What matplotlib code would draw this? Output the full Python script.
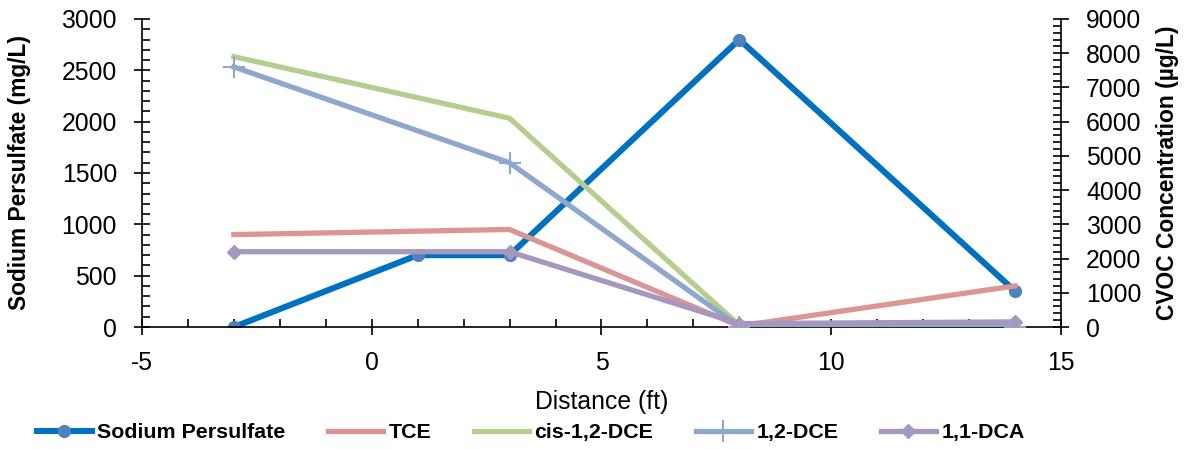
import matplotlib
matplotlib.use("Agg")
import matplotlib.pyplot as plt
from matplotlib.ticker import MultipleLocator

plt.rcParams['font.family'] = ['Liberation Sans', 'DejaVu Sans']
plt.rcParams['axes.unicode_minus'] = False

# --- data ---
sp_dist = [-3, 1, 3, 8, 14]
sp_conc = [0, 700, 700, 2800, 350]          # mg/L, left axis

cvoc_dist = [-3, 3, 8, 14]
tce = [2700, 2850, 30, 1200]                 # ug/L, right axis
cis_dce = [7900, 6100, 50, 20]
dce_12 = [7600, 4800, 10, 10]
dca_11 = [2200, 2200, 100, 150]

fig = plt.figure(figsize=(11.87, 4.49), dpi=100)
ax = fig.add_axes([0.1196, 0.2717, 0.8938 - 0.1196, 0.9577 - 0.2717])
ax2 = ax.twinx()

# primary series
l1, = ax.plot(sp_dist, sp_conc, color='#0070C0', lw=4.4, marker='o', ms=8.5,
              mfc='#4F81BD', mec='#4F81BD', label='Sodium Persulfate')

# secondary series (drawn on top, like Excel's secondary axis)
l2, = ax2.plot(cvoc_dist, tce, color='#D99694', lw=3.8, label='TCE')
l3, = ax2.plot(cvoc_dist, cis_dce, color='#B5CD8E', lw=3.8, label='cis-1,2-DCE')
l4, = ax2.plot(cvoc_dist, dce_12, color='#8EA7CD', lw=3.8, marker='+', ms=16,
               mew=1.5, label='1,2-DCE')
l5, = ax2.plot(cvoc_dist, dca_11, color='#A597BE', lw=3.8, marker='D', ms=7.5,
               label='1,1-DCA')

ax.set_xlim(-5, 15)
ax.set_ylim(0, 3000)
ax2.set_ylim(0, 9000)

ax.xaxis.set_major_locator(MultipleLocator(5))
ax.xaxis.set_minor_locator(MultipleLocator(1))
ax.yaxis.set_major_locator(MultipleLocator(500))
ax.yaxis.set_minor_locator(MultipleLocator(100))
ax2.yaxis.set_major_locator(MultipleLocator(1000))
ax2.yaxis.set_minor_locator(MultipleLocator(200))

for a in (ax, ax2):
    a.spines['top'].set_visible(False)
    for s in a.spines.values():
        s.set_linewidth(1.2)
ax.spines['right'].set_visible(False)
ax2.spines['left'].set_visible(False)
ax2.spines['bottom'].set_visible(False)

ax.tick_params(axis='both', which='major', direction='inout', length=12, width=1.2,
               labelsize=17.8)
ax.tick_params(axis='y', which='major', pad=12)
ax.tick_params(axis='x', which='major', pad=11)
ax.tick_params(axis='both', which='minor', direction='in', length=6, width=1.2)
ax2.tick_params(axis='y', which='major', direction='inout', length=12, width=1.2,
                pad=12, labelsize=17.8)
ax2.tick_params(axis='y', which='minor', direction='in', length=6, width=1.2)

ax.set_xlabel('Distance (ft)', fontsize=17.8)
ax.set_ylabel('Sodium Persulfate (mg/L)', fontsize=16.4, fontweight='bold')
ax2.set_ylabel('CVOC Concentration (µg/L)', fontsize=16.4, fontweight='bold')
ax.xaxis.set_label_coords(0.5, -0.205)
ax.yaxis.set_label_coords(-0.121, 0.5)
ax2.yaxis.set_label_coords(1.103, 0.5)

fig.legend(handles=[l1, l2, l3, l4, l5], loc='center', ncol=5,
           bbox_to_anchor=(0.447, 0.036), frameon=False,
           prop=dict(weight='bold', size=15.4), handlelength=2.57,
           handletextpad=0.25, columnspacing=2.0, borderaxespad=0)

fig.savefig('out.png', dpi=100)
